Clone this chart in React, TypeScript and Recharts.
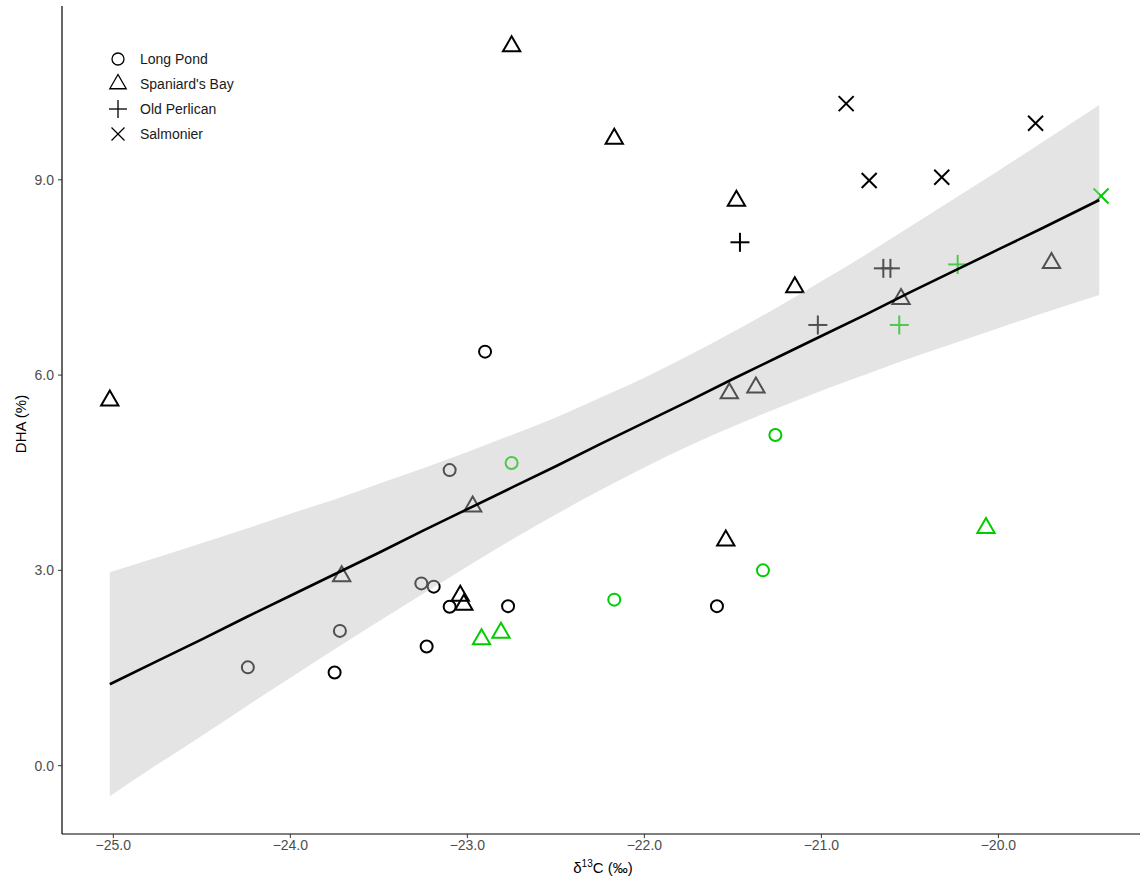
import { Area, ComposedChart, Line, Scatter, XAxis, YAxis } from "recharts";

type Pt = { x: number; y: number; g: "k" | "g" };

// δ13C / DHA readings per site, g = sample group (black / green)
const longPond: Pt[] = [
  { x: -22.9, y: 6.36, g: "k" },
  { x: -23.1, y: 2.44, g: "k" },
  { x: -22.77, y: 2.45, g: "k" },
  { x: -23.23, y: 1.83, g: "k" },
  { x: -23.75, y: 1.43, g: "k" },
  { x: -21.59, y: 2.45, g: "k" },
  { x: -23.1, y: 4.54, g: "k" },
  { x: -23.26, y: 2.8, g: "k" },
  { x: -23.19, y: 2.75, g: "k" },
  { x: -23.72, y: 2.07, g: "k" },
  { x: -24.24, y: 1.51, g: "k" },
  { x: -22.75, y: 4.65, g: "g" },
  { x: -21.26, y: 5.08, g: "g" },
  { x: -21.33, y: 3.0, g: "g" },
  { x: -22.17, y: 2.55, g: "g" },
];

const spaniardsBay: Pt[] = [
  { x: -22.75, y: 11.05, g: "k" },
  { x: -22.17, y: 9.63, g: "k" },
  { x: -21.48, y: 8.68, g: "k" },
  { x: -21.15, y: 7.35, g: "k" },
  { x: -25.02, y: 5.61, g: "k" },
  { x: -21.54, y: 3.46, g: "k" },
  { x: -23.04, y: 2.61, g: "k" },
  { x: -23.02, y: 2.47, g: "k" },
  { x: -23.71, y: 2.91, g: "k" },
  { x: -22.97, y: 3.98, g: "k" },
  { x: -21.52, y: 5.72, g: "k" },
  { x: -21.37, y: 5.81, g: "k" },
  { x: -20.55, y: 7.17, g: "k" },
  { x: -19.7, y: 7.72, g: "k" },
  { x: -22.92, y: 1.94, g: "g" },
  { x: -22.81, y: 2.04, g: "g" },
  { x: -20.07, y: 3.65, g: "g" },
];

const oldPerlican: Pt[] = [
  { x: -21.46, y: 8.04, g: "k" },
  { x: -20.65, y: 7.64, g: "k" },
  { x: -20.61, y: 7.64, g: "k" },
  { x: -21.02, y: 6.77, g: "k" },
  { x: -20.23, y: 7.7, g: "g" },
  { x: -20.56, y: 6.77, g: "g" },
];

const salmonier: Pt[] = [
  { x: -20.86, y: 10.17, g: "k" },
  { x: -19.79, y: 9.87, g: "k" },
  { x: -20.73, y: 8.99, g: "k" },
  { x: -20.32, y: 9.04, g: "k" },
  { x: -19.42, y: 8.75, g: "g" },
];

// linear fit and its confidence band, read along the x axis
const bandX = [
  -25.02, -24.75, -24.5, -24.25, -24.0, -23.75, -23.5, -23.25, -23.0, -22.75, -22.5, -22.25,
  -22.0, -21.75, -21.5, -21.25, -21.0, -20.75, -20.5, -20.25, -20.0, -19.75, -19.43,
];
const fitY = [
  1.25, 1.61, 1.94, 2.28, 2.61, 2.94, 3.27, 3.61, 3.94, 4.27, 4.6, 4.94, 5.27, 5.6, 5.94,
  6.27, 6.6, 6.93, 7.27, 7.6, 7.93, 8.26, 8.69,
];
const bandLow = [
  -0.47, 0.02, 0.46, 0.91, 1.35, 1.79, 2.22, 2.64, 3.06, 3.47, 3.86, 4.23, 4.58, 4.91, 5.21,
  5.49, 5.76, 6.01, 6.26, 6.49, 6.72, 6.95, 7.23,
];
const bandHigh = [
  2.97, 3.2, 3.42, 3.64, 3.87, 4.09, 4.33, 4.57, 4.82, 5.08, 5.35, 5.65, 5.96, 6.3, 6.66,
  7.04, 7.44, 7.85, 8.28, 8.71, 9.14, 9.58, 10.15,
];

const xTicks = [-25, -24, -23, -22, -21, -20];
const yTicks = [0, 3, 6, 9];

const FONT = "'Liberation Sans', Arial, Helvetica, sans-serif";
const TONES: Record<string, string> = { k: "#000000", g: "#00CD00" };

type Kind = "circle" | "triangle" | "plus" | "cross";

const sites: { name: string; kind: Kind; data: Pt[] }[] = [
  { name: "Long Pond", kind: "circle", data: longPond },
  { name: "Spaniard's Bay", kind: "triangle", data: spaniardsBay },
  { name: "Old Perlican", kind: "plus", data: oldPerlican },
  { name: "Salmonier", kind: "cross", data: salmonier },
];

const rows = bandX.map((x, i) => ({ x, fit: fitY[i], band: [bandLow[i], bandHigh[i]] }));

function Marker({ kind, cx, cy, color, sw, legend }: { kind: Kind; cx: number; cy: number; color: string; sw: number; legend?: boolean }) {
  if (cx == null || cy == null) return null;
  if (kind === "circle") {
    return <circle cx={cx} cy={cy} r={6} fill="none" stroke={color} strokeWidth={sw} />;
  }
  if (kind === "triangle") {
    const r = legend ? 9.5 : 10;
    const pts = `${cx},${cy - r} ${cx + 0.866 * r},${cy + r / 2} ${cx - 0.866 * r},${cy + r / 2}`;
    return <polygon points={pts} fill="none" stroke={color} strokeWidth={sw} />;
  }
  if (kind === "plus") {
    const h = legend ? 9 : 9.5;
    return (
      <g stroke={color} strokeWidth={sw}>
        <line x1={cx - h} y1={cy} x2={cx + h} y2={cy} />
        <line x1={cx} y1={cy - h} x2={cx} y2={cy + h} />
      </g>
    );
  }
  const h = legend ? 6.5 : 7.5;
  return (
    <g stroke={color} strokeWidth={sw}>
      <line x1={cx - h} y1={cy - h} x2={cx + h} y2={cy + h} />
      <line x1={cx - h} y1={cy + h} x2={cx + h} y2={cy - h} />
    </g>
  );
}

function XTitle(props: any) {
  const vb = props.viewBox || { x: 62, y: 834, width: 1078 };
  return (
    <text x={vb.x + vb.width / 2 + 2} y={vb.y + 39} textAnchor="middle" fontSize={15} fontFamily={FONT} fill="#000">
      <tspan>δ</tspan>
      <tspan dy={-6} fontSize={10}>13</tspan>
      <tspan dy={6}>C (‰)</tspan>
    </text>
  );
}

function YTitle(props: any) {
  const vb = props.viewBox || { x: 0, y: 6, height: 828 };
  const cy = vb.y + vb.height / 2 + 4;
  return (
    <text
      x={20}
      y={cy}
      transform={`rotate(-90, 20, ${cy})`}
      textAnchor="middle"
      dominantBaseline="central"
      fontSize={15}
      fontFamily={FONT}
      fill="#000"
    >
      DHA (%)
    </text>
  );
}

export default function App() {
  return (
    <div
      style={{
        position: "fixed",
        left: 0,
        top: 0,
        width: 1140,
        height: 879,
        overflow: "hidden",
        background: "#fff",
        fontFamily: FONT,
      }}
    >
      <ComposedChart width={1140} height={879} data={rows} margin={{ top: 6, right: 0, bottom: 0, left: 0 }}>
        <XAxis
          type="number"
          dataKey="x"
          domain={[-25.29, -19.2]}
          allowDataOverflow
          ticks={xTicks}
          tickFormatter={(v: number) => v.toFixed(1).replace("-", "\u2212")}
          height={45}
          tickSize={4}
          tickMargin={2}
          tick={{ fill: "#4d4d4d", fontSize: 14, fontFamily: FONT }}
          tickLine={{ stroke: "#333" }}
          axisLine={{ stroke: "#000", strokeWidth: 1.2 }}
          label={<XTitle />}
        />
        <YAxis
          type="number"
          domain={[-1.05, 11.67]}
          allowDataOverflow
          ticks={yTicks}
          tickFormatter={(v: number) => v.toFixed(1)}
          width={62}
          tickSize={4}
          tickMargin={4}
          tick={{ fill: "#4d4d4d", fontSize: 14, fontFamily: FONT }}
          tickLine={{ stroke: "#333" }}
          axisLine={{ stroke: "#000", strokeWidth: 1.2 }}
          label={<YTitle />}
        />
        {sites.map((s) => (
          <Scatter
            key={s.name}
            name={s.name}
            data={s.data}
            dataKey="y"
            isAnimationActive={false}
            shape={(p: any) => (
              <Marker kind={s.kind} cx={p.cx} cy={p.cy} color={TONES[p.payload?.g ?? "k"]} sw={2} />
            )}
          />
        ))}
        <Area
          dataKey="band"
          type="monotone"
          fill="#bebebe"
          fillOpacity={0.42}
          stroke="none"
          activeDot={false}
          isAnimationActive={false}
          zIndex={700}
        />
        <Line
          dataKey="fit"
          type="linear"
          stroke="#000"
          strokeWidth={2.6}
          dot={false}
          activeDot={false}
          isAnimationActive={false}
          zIndex={800}
        />
      </ComposedChart>
      {sites.map((s, i) => (
        <div
          key={s.name}
          style={{ position: "absolute", left: 105, top: 46 + i * 25, height: 26, display: "flex", alignItems: "center" }}
        >
          <svg width={26} height={26}>
            <Marker kind={s.kind} cx={13} cy={13} color="#000" sw={1.3} legend />
          </svg>
          <span style={{ marginLeft: 9, fontSize: 14, color: "#1a1a1a" }}>{s.name}</span>
        </div>
      ))}
    </div>
  );
}
